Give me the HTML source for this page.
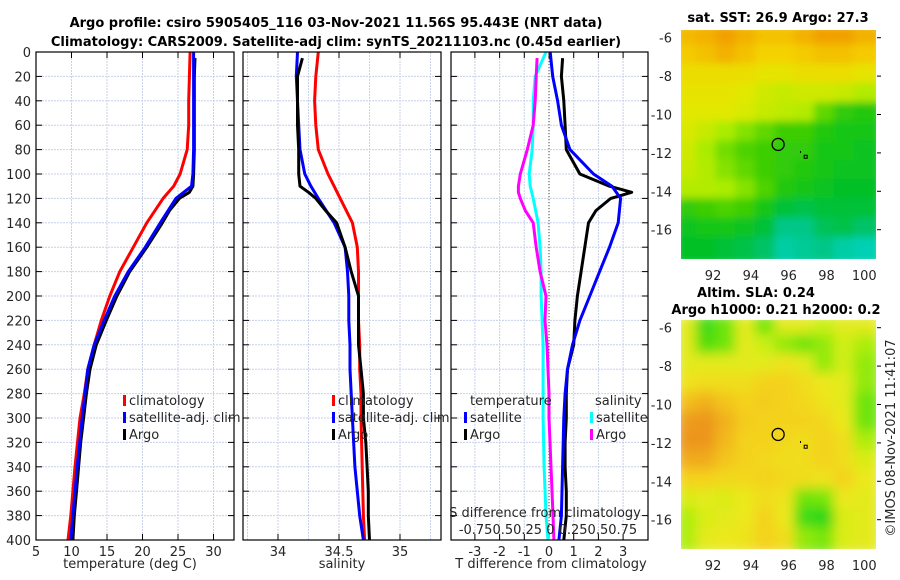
<!DOCTYPE html>
<html><head><meta charset="utf-8">
<style>
html,body{margin:0;padding:0;background:#fff;}
svg{display:block;font-family:"DejaVu Sans","Liberation Sans",sans-serif;}
.t{font-size:13px;fill:#262626;}
.b{font-size:13px;font-weight:bold;fill:#000;}
</style></head>
<body>
<svg id="fig" width="900" height="580" viewBox="0 0 900 580">
<defs>
<clipPath id="c1"><rect x="36" y="52" width="198" height="488"/></clipPath>
<clipPath id="c2"><rect x="243" y="52" width="198" height="488"/></clipPath>
<clipPath id="c3"><rect x="451" y="52" width="197" height="488"/></clipPath>
<clipPath id="m1"><rect x="680" y="29" width="197" height="231"/></clipPath>
<clipPath id="m2"><rect x="680" y="319" width="197" height="231"/></clipPath>
<filter id="bl" x="-5%" y="-5%" width="110%" height="110%"><feGaussianBlur stdDeviation="4"/></filter>
<filter id="bl2" x="-5%" y="-5%" width="110%" height="110%"><feGaussianBlur stdDeviation="6"/></filter>
</defs>
<text class="b" x="336" y="27" text-anchor="middle">Argo profile: csiro 5905405_116 03-Nov-2021 11.56S 95.443E (NRT data)</text>
<text class="b" x="336" y="46" text-anchor="middle">Climatology: CARS2009. Satellite-adj clim: synTS_20211103.nc (0.45d earlier)</text>
<g id="p1"></g>
<g id="p2"></g>
<g id="p3"></g>
<g id="map1"></g>
<g id="map2"></g>
<text class="t" x="130" y="568" text-anchor="middle">temperature (deg C)</text>
<text class="t" x="342" y="568" text-anchor="middle">salinity</text>
<text class="t" x="551" y="568" text-anchor="middle">T difference from climatology</text>
<text class="t" x="545" y="517" text-anchor="middle">S difference from climatology</text>
<text class="t" x="548" y="534" text-anchor="middle">-0.750.50.25 0 0.250.50.75</text>
<text class="b" x="778" y="22" text-anchor="middle">sat. SST: 26.9 Argo: 27.3</text>
<text class="b" x="756" y="297" text-anchor="middle">Altim. SLA: 0.24</text>
<text class="b" x="776" y="314" text-anchor="middle">Argo h1000: 0.21 h2000: 0.2</text>
<text class="t" transform="translate(895,438) rotate(-90)" text-anchor="middle">©IMOS 08-Nov-2021 11:41:07</text>
</svg>
<script>
// ---- data ----
const depths = [0,20,40,60,80,100,110,120,140,160,180,200,220,240,260,280,300,340,380,400];
const tempClim = [26.7,26.6,26.5,26.5,26.3,25.3,24.4,22.9,20.6,18.7,16.8,15.4,14.2,13.2,12.3,11.8,11.2,10.5,9.9,9.5];
const tempSat = [27.2,27.2,27.2,27.2,27.2,27.1,26.9,24.7,22.5,20.4,18.0,16.1,14.6,13.2,12.3,11.9,11.5,10.8,10.2,9.9];
const argoDepths = [5,20,40,60,80,100,110,115,120,130,140,160,180,200,220,240,260,280,300,320,340,360,380,400];
const tempArgo = [27.4,27.3,27.3,27.3,27.3,27.2,27.1,26.6,25.2,23.8,22.8,20.6,18.2,16.4,14.9,13.5,12.6,12.1,11.7,11.3,11.0,10.7,10.4,10.2];
const salClim = [34.33,34.31,34.30,34.31,34.33,34.41,34.46,34.51,34.61,34.65,34.66,34.66,34.66,34.67,34.67,34.68,34.68,34.69,34.70,34.71];
const salSat = [34.16,34.15,34.16,34.17,34.18,34.22,34.27,34.33,34.46,34.55,34.57,34.58,34.58,34.59,34.59,34.60,34.61,34.63,34.67,34.70];
const salArgo = [34.20,34.16,34.16,34.16,34.17,34.17,34.18,34.25,34.31,34.39,34.48,34.55,34.60,34.66,34.66,34.66,34.68,34.70,34.70,34.72,34.73,34.74,34.74,34.75];
const dTSat = [0.05,0.15,0.35,0.5,0.85,1.8,2.55,2.9,2.8,2.45,2.05,1.65,1.25,0.95,0.75,0.65,0.6,0.55,0.5,0.4];
const dTArgo = [0.55,0.5,0.6,0.65,0.7,1.25,2.45,3.35,2.5,1.9,1.6,1.45,1.3,1.15,1.05,1.0,0.75,0.7,0.7,0.65,0.65,0.7,0.7,0.6];
const dSSat = [-0.03,-0.14,-0.16,-0.16,-0.17,-0.2,-0.19,-0.16,-0.11,-0.09,-0.08,-0.08,-0.07,-0.06,-0.06,-0.06,-0.06,-0.05,-0.03,-0.01];
const dSArgo = [-0.12,-0.13,-0.14,-0.16,-0.22,-0.29,-0.31,-0.31,-0.29,-0.24,-0.16,-0.13,-0.09,-0.03,-0.04,-0.02,-0.01,0.0,0.0,0.01,0.02,0.03,0.04,0.05];
const depthTicks = [0,20,40,60,80,100,120,140,160,180,200,220,240,260,280,300,320,340,360,380,400];
const tempTicks = [5,10,15,20,25,30];
const salTicks = [34,34.5,35];
const salGrid = [33.75,34,34.25,34.5,34.75,35,35.25];
const diffTicks = [-3,-2,-1,0,1,2,3];
const latTicks = [-6,-8,-10,-12,-14,-16];
const lonTicks = [92,94,96,98,100];
const sstGrid = [
[3.5,3.6,3.8,3.6,3.4,3.4,3.6,3.8,3.8,3.6],
[3.3,3.4,3.6,3.4,3.2,3.2,3.3,3.4,3.4,3.3],
[3.0,3.0,3.0,3.0,2.9,2.9,3.0,3.0,3.0,2.9],
[2.9,2.9,2.9,2.8,2.6,2.5,2.6,2.6,2.5,2.3],
[2.8,2.8,2.8,2.7,2.5,2.4,2.3,1.8,1.5,1.4],
[2.7,2.5,2.2,2.0,1.8,1.6,1.6,1.4,1.3,1.3],
[2.6,2.2,1.9,1.7,1.6,1.5,1.5,1.3,1.3,1.2],
[2.5,2.3,2.0,1.8,1.6,1.5,1.4,1.3,1.2,1.2],
[2.3,2.3,2.2,2.0,1.7,1.4,1.3,1.2,1.1,1.1],
[1.5,1.6,1.7,1.6,1.3,1.0,0.9,1.0,1.0,1.0],
[1.2,1.3,1.3,1.2,1.0,0.5,0.5,0.8,0.9,0.7],
[1.1,1.1,1.0,0.9,0.7,0.3,0.4,0.5,0.3,0.2]];
const slaGrid = [
[2.5,1.0,1.5,2.5,1.5,2.5,2.5,2.2,2.5,2.5],
[2.5,1.2,1.5,2.5,2.2,1.8,1.5,1.8,2.3,2.0],
[2.5,2.5,2.5,2.5,2.5,2.7,2.5,1.8,2.3,1.8],
[2.7,2.8,2.8,2.8,3.0,3.0,2.8,2.6,2.5,1.8],
[3.3,3.5,3.2,3.0,3.1,3.0,2.9,2.7,2.5,1.5],
[3.8,3.9,3.5,3.1,3.0,3.0,3.0,2.9,2.6,1.5],
[3.9,3.9,3.4,3.0,3.0,2.9,2.8,3.0,2.8,2.0],
[3.6,3.6,3.2,3.0,2.9,2.8,2.8,3.0,2.8,2.4],
[3.0,3.0,2.9,2.9,3.0,2.9,2.8,2.7,3.0,2.6],
[2.4,2.5,2.4,2.6,2.8,2.7,1.5,1.6,2.6,2.5],
[2.0,2.4,2.5,2.6,3.0,2.6,1.0,0.8,2.4,2.5],
[2.0,2.5,2.6,2.7,3.0,2.8,1.8,1.6,2.4,2.5]];
const argoLon = 95.443, argoLat = -11.56;

// ---- helpers ----
const NS = 'http://www.w3.org/2000/svg';
function el(tag, parent, attrs){ const e=document.createElementNS(NS,tag); for(const k in attrs) e.setAttribute(k,attrs[k]); parent.appendChild(e); return e; }
const Y0=52, Y1=540;
const yDepth = d => Y0 + d/400*(Y1-Y0);
const xTemp = v => 36 + (v-5)*7.1;
const xSal = v => 278 + (v-34)*122;
const xDT = v => 549 + v*24.7;
const xDS = v => 549 + v*98.8;
const mapLon = (v) => 680 + (v-90.25)*18.9;
const mapLat = (v, top) => top + 8.7 + (-6 - v)*19.2;

function panel(g, x0, x1, clip, gridXs, xf, tickXs, tickLabels, showY){
  gridXs.forEach(v=>{
    const l=el('line',g,{x1:xf(v),x2:xf(v),y1:Y0,y2:Y1,stroke:'#c9d0ea','stroke-width':1,'stroke-dasharray':'2,1'});
    
    
  });
  depthTicks.forEach(d=>{
    const l=el('line',g,{x1:x0,x2:x1,y1:yDepth(d),y2:yDepth(d),stroke:'#c9d0ea','stroke-width':1,'stroke-dasharray':'2,1'});
    
    
    const a=el('line',g,{x1:x0,x2:x0+6,y1:yDepth(d),y2:yDepth(d),stroke:'#000','stroke-width':1});
    
    
    const b=el('line',g,{x1:x1-6,x2:x1,y1:yDepth(d),y2:yDepth(d),stroke:'#000','stroke-width':1});
    
    
    if(showY){
      const t=el('text',g,{x:x0-5,y:yDepth(d)+5,'text-anchor':'end',class:'t'});
      t.textContent=d;
      
      
    }
  });
  tickXs.forEach((v,i)=>{
    const a=el('line',g,{x1:xf(v),x2:xf(v),y1:Y1,y2:Y1-6,stroke:'#000'});
    
    
    const b=el('line',g,{x1:xf(v),x2:xf(v),y1:Y0,y2:Y0+6,stroke:'#000'});
    
    
    const t=el('text',g,{x:xf(v),y:556,'text-anchor':'middle',class:'t'});
    t.textContent=tickLabels[i];
    
    
  });
}
function frame(g,x0,x1){
  const r=el('rect',g,{x:x0,y:Y0,width:x1-x0,height:Y1-Y0,fill:'none',stroke:'#000','stroke-width':1.2});
  
  
}
function line(g, clip, xs, ys, xf, color, name, w){
  const pts = xs.map((v,i)=>xf(v).toFixed(1)+','+yDepth(ys[i]).toFixed(1)).join(' ');
  const p=el('polyline',g,{points:pts,fill:'none',stroke:color,'stroke-width':w||3,'stroke-linejoin':'round','clip-path':'url(#'+clip+')'});
  
  
}
function legend(g,x,y,color,label,name){
  const r=el('rect',g,{x:x,y:y-10,width:3,height:11,fill:color});
  
  
  const t=el('text',g,{x:x+6,y:y,class:'t'});
  t.textContent=label;
  
  
}

// Panel 1
const p1=document.getElementById('p1');
panel(p1,36,234,'c1',tempTicks,xTemp,tempTicks,tempTicks.map(String),true);
line(p1,'c1',tempClim,depths,xTemp,'#ff0000','climatology-temp-line');
line(p1,'c1',tempArgo,argoDepths,xTemp,'#000000','argo-temp-line');
line(p1,'c1',tempSat,depths,xTemp,'#0000ff','satellite-temp-line');
frame(p1,36,234);
legend(p1,123,405,'#ff0000','climatology','legend-climatology');
legend(p1,123,422,'#0000ff','satellite-adj. clim','legend-satellite');
legend(p1,123,439,'#000000','Argo','legend-argo');

// Panel 2
const p2=document.getElementById('p2');
panel(p2,243,441,'c2',salGrid,xSal,salTicks,['34','34.5','35'],false);
line(p2,'c2',salClim,depths,xSal,'#ff0000','climatology-sal-line');
line(p2,'c2',salSat,depths,xSal,'#0000ff','satellite-sal-line');
line(p2,'c2',salArgo,argoDepths,xSal,'#000000','argo-sal-line');
frame(p2,243,441);
legend(p2,332,405,'#ff0000','climatology','legend-climatology-2');
legend(p2,332,422,'#0000ff','satellite-adj. clim','legend-satellite-2');
legend(p2,332,439,'#000000','Argo','legend-argo-2');

// Panel 3
const p3=document.getElementById('p3');
panel(p3,451,648,'c3',diffTicks,xDT,diffTicks,diffTicks.map(String),false);
const zl=el('line',p3,{x1:549,x2:549,y1:Y0,y2:Y1,stroke:'#4a4a20','stroke-width':1,'stroke-dasharray':'1,2'});


line(p3,'c3',dSSat,depths,xDS,'#00ffff','sal-diff-satellite-line');
line(p3,'c3',dSArgo,argoDepths,xDS,'#ff00ff','sal-diff-argo-line');
line(p3,'c3',dTArgo,argoDepths,xDT,'#000000','temp-diff-argo-line');
line(p3,'c3',dTSat,depths,xDT,'#0000ff','temp-diff-satellite-line');
frame(p3,451,648);
const tt=el('text',p3,{x:470,y:405,class:'t'}); tt.textContent='temperature';


const st=el('text',p3,{x:595,y:405,class:'t'}); st.textContent='salinity';


legend(p3,464,422,'#0000ff','satellite','legend-temp-satellite');
legend(p3,464,439,'#000000','Argo','legend-temp-argo');
legend(p3,590,422,'#00ffff','satellite','legend-sal-satellite');
legend(p3,590,439,'#ff00ff','Argo','legend-sal-argo');

// Maps
function lerp(a,b,t){return Math.round(a+(b-a)*t);}
function cmap(stops,v){
  const f=c=>'rgb('+c[0]+','+c[1]+','+c[2]+')';
  if(v<=stops[0][0]) return f(stops[0][1]);
  for(let i=1;i<stops.length;i++){
    if(v<=stops[i][0]){
      const t=(v-stops[i-1][0])/(stops[i][0]-stops[i-1][0]);
      const a=stops[i-1][1], b=stops[i][1];
      return 'rgb('+lerp(a[0],b[0],t)+','+lerp(a[1],b[1],t)+','+lerp(a[2],b[2],t)+')';
    }
  }
  return f(stops[stops.length-1][1]);
}
const sstStops=[[0,[0,214,208]],[0.6,[0,196,120]],[1.1,[0,192,40]],[1.6,[60,206,0]],[2.2,[170,236,0]],[2.8,[226,232,0]],[3.2,[244,210,0]],[3.8,[242,160,0]]];
const slaStops=[[0.8,[40,214,20]],[1.6,[120,230,10]],[2.2,[200,240,20]],[2.6,[236,232,30]],[3.0,[244,210,30]],[3.4,[242,184,30]],[3.9,[236,150,30]]];
function drawMap(g,grid,stops,top,clip,blur){
  const bg=el('g',g,{'clip-path':'url(#'+clip+')'});
  const inner=el('g',bg,{filter:'url(#'+blur+')'});
  const cw=197/grid[0].length, ch=231/grid.length;
  grid.forEach((row,r)=>row.forEach((v,c)=>{
    const rc=el('rect',inner,{x:680+c*cw-4,y:top+r*ch-4,width:cw+8,height:ch+8,fill:cmap(stops,v)});
    
    
  }));
  const fr=el('rect',g,{x:680,y:top,width:197,height:231,fill:'none',stroke:'#fff','stroke-width':2});
  
  
  latTicks.forEach(v=>{
    const y=mapLat(v,top);
    const t=el('text',g,{x:672,y:y+5,'text-anchor':'end',class:'t'});
    t.textContent=v;
    
    
    const k=el('line',g,{x1:877,x2:881,y1:y,y2:y,stroke:'#000'});
    
    
  });
  lonTicks.forEach(v=>{
    const x=mapLon(v);
    const t=el('text',g,{x:x,y:top+251,'text-anchor':'middle',class:'t'});
    t.textContent=v;
    
    
  });
  const c=el('circle',g,{cx:mapLon(argoLon),cy:mapLat(argoLat,top),r:6,fill:'none',stroke:'#000','stroke-width':1.3});
  
  
  const s=el('rect',g,{x:mapLon(96.9)-1.5,y:mapLat(-12.2,top)-1.5,width:3,height:3,fill:'none',stroke:'#000','stroke-width':1});
  
  
  const d=el('rect',g,{x:mapLon(96.6),y:mapLat(-11.9,top),width:1,height:2,fill:'#000'});
  
  
}
drawMap(document.getElementById('map1'),sstGrid,sstStops,29,'m1','bl');
drawMap(document.getElementById('map2'),slaGrid,slaStops,319,'m2','bl2');
</script>
</body></html>
